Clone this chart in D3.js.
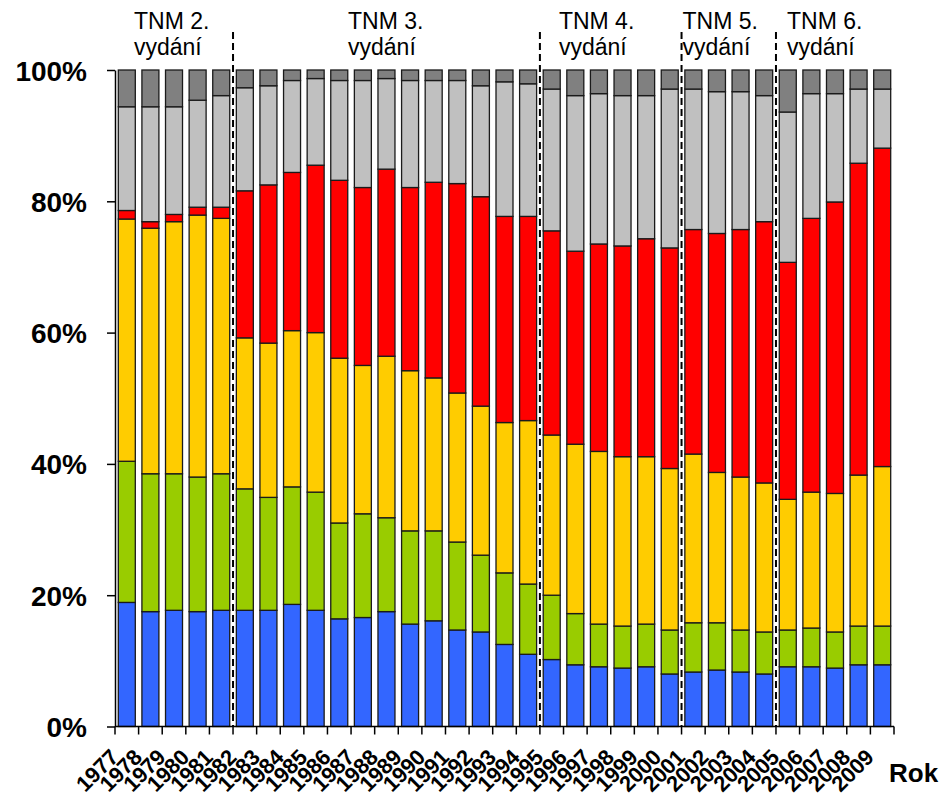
<!DOCTYPE html>
<html>
<head>
<meta charset="utf-8">
<script src="https://cdn.jsdelivr.net/npm/d3@7"></script>
<style>
  body { margin: 0; background: #fff; }
</style>
</head>
<body>
<div class="chart"></div>
<script>
// years on the x axis
const years = d3.range(1977, 2010)

// shares per year (percent), bottom to top
const blue      = [18.9,17.5,17.7,17.5,17.7,17.7,17.7,18.6,17.7,16.4,16.6,17.5,15.6,16.1,14.7,14.4,12.5,11.0,10.2,9.4,9.1,8.9,9.1,8.0,8.3,8.6,8.3,8.0,9.1,9.1,8.9,9.4,9.4]
const green     = [21.5,21.0,20.8,20.5,20.8,18.5,17.2,17.9,18.0,14.6,15.8,14.3,14.2,13.7,13.4,11.7,10.9,10.7,9.8,7.8,6.5,6.4,6.5,6.7,7.5,7.2,6.4,6.4,5.6,5.9,5.5,5.9,5.9]
const yellow    = [36.9,37.4,38.4,39.9,38.9,23.0,23.5,23.8,24.3,25.1,22.6,24.6,24.4,23.3,22.7,22.7,22.9,24.9,24.4,25.8,26.3,25.8,25.5,24.6,25.7,22.9,23.3,22.7,19.9,20.7,21.1,23.0,24.3]
const red       = [1.3,1.0,1.1,1.2,1.7,22.4,24.1,24.1,25.5,27.1,27.1,28.5,27.9,29.8,31.9,31.9,31.4,31.1,31.1,29.4,31.6,32.1,33.2,33.6,34.2,36.4,37.7,39.8,36.1,41.7,44.4,47.5,48.5]
const lightGray = [15.8,17.5,16.4,16.3,17.0,15.7,15.1,14.0,13.2,15.2,16.3,13.8,16.3,15.5,15.7,16.9,20.5,20.2,21.6,23.7,22.9,22.9,21.8,24.2,21.4,21.6,21.0,19.2,22.9,19.0,16.5,11.3,9.0]
const darkGray  = [5.6,5.6,5.6,4.6,3.9,2.7,2.4,1.6,1.3,1.6,1.6,1.3,1.6,1.6,1.6,2.4,1.8,2.1,2.9,3.9,3.6,3.9,3.9,2.9,2.9,3.3,3.3,3.9,6.4,3.6,3.6,2.9,2.9]

const keys   = ["blue","green","yellow","red","lightGray","darkGray"]
const colors = ["#3366ff","#99cc00","#ffcc00","#ff0000","#c0c0c0","#808080"]

// TNM editions
const editions     = ["TNM 2.","TNM 3.","TNM 4.","TNM 5.","TNM 6."]
const editionStart = [1977, 1982, 1995, 2001, 2005]
const editionDx    = [19, 115, 19, 1, 11]

const yTicks = [0, 0.2, 0.4, 0.6, 0.8, 1]

const table = years.map((y,i)=>({
  year: y, blue: blue[i], green: green[i], yellow: yellow[i],
  red: red[i], lightGray: lightGray[i], darkGray: darkGray[i]
}))

const W = 941, H = 796
const plotLeft = 115, plotRight = 894, plotTop = 70, plotBottom = 726.5

const svg = d3.select(".chart").append("svg")
  .attr("width", W).attr("height", H)
  .style("font-family", "'Liberation Sans', Arial, sans-serif")

const xScale = d3.scaleBand()
  .domain(years)
  .range([plotLeft, plotRight])
  .paddingInner(0.28)
  .paddingOuter(0.14)

const yScale = d3.scaleLinear()
  .domain([0, 1])
  .range([plotBottom, plotTop])

const gap = xScale.step() * xScale.paddingInner()
const boundary = y => xScale(y) - gap / 2   // left edge of a category

const series = d3.stack().keys(keys).offset(d3.stackOffsetExpand)(table)

svg.append("g")
  .selectAll("g")
  .data(series)
  .join("g")
  .attr("fill", (d,i)=>colors[i])
  .selectAll("rect")
  .data(d=>d)
  .join("rect")
  .attr("x", d=>xScale(d.data.year))
  .attr("width", xScale.bandwidth())
  .attr("y", d=>yScale(d[1]))
  .attr("height", d=>yScale(d[0]) - yScale(d[1]))
  .attr("stroke", "#1a1a1a")
  .attr("stroke-width", 1.3)

// y axis
const yAxis = d3.axisLeft(yScale)
  .tickValues(yTicks)
  .tickFormat(d3.format(".0%"))
  .tickSize(8)
  .tickSizeOuter(0)
  .tickPadding(20)

const gy = svg.append("g")
  .attr("transform", `translate(${plotLeft},0)`)
  .call(yAxis)
gy.select(".domain").attr("stroke", "#000").attr("stroke-width", 1.5)
gy.selectAll(".tick line").attr("stroke", "#000").attr("stroke-width", 1.5)
gy.selectAll(".tick text")
  .attr("fill", "#000")
  .style("font-size", "28px")
  .style("font-weight", "bold")
  .attr("dy", "0.36em")

// x axis: line, ticks between categories, rotated labels
const gx = svg.append("g")
gx.append("line")
  .attr("x1", plotLeft).attr("x2", plotRight)
  .attr("y1", plotBottom).attr("y2", plotBottom)
  .attr("stroke", "#000").attr("stroke-width", 1.5)

gx.selectAll(".xtick")
  .data(years.concat([years[years.length-1] + 1]))
  .join("line")
  .attr("class", "xtick")
  .attr("x1", (d,i)=> i < years.length ? boundary(d) : plotRight)
  .attr("x2", (d,i)=> i < years.length ? boundary(d) : plotRight)
  .attr("y1", plotBottom).attr("y2", plotBottom + 8)
  .attr("stroke", "#000").attr("stroke-width", 1.5)

gx.selectAll(".xlabel")
  .data(years)
  .join("text")
  .attr("class", "xlabel")
  .attr("text-anchor", "end")
  .attr("transform", d=>`translate(${xScale(d) + xScale.bandwidth()/2 - 7},${plotBottom + 32}) rotate(-45)`)
  .style("font-size", "22px")
  .style("font-weight", "bold")
  .text(d=>d)

svg.append("text")
  .attr("x", 889).attr("y", 782)
  .style("font-size", "26px")
  .style("font-weight", "bold")
  .text("Rok")

// edition separators
svg.selectAll(".sep")
  .data(editionStart.slice(1))
  .join("line")
  .attr("class", "sep")
  .attr("x1", d=>boundary(d)).attr("x2", d=>boundary(d))
  .attr("y1", 32).attr("y2", plotBottom)
  .attr("stroke", "#000")
  .attr("stroke-width", 2)
  .attr("stroke-dasharray", "7,4")

// edition labels
const lab = svg.selectAll(".edition")
  .data(editions)
  .join("text")
  .attr("class", "edition")
  .attr("x", (d,i)=>boundary(editionStart[i]) + editionDx[i])
  .attr("y", 29)
  .style("font-size", "23px")

lab.append("tspan").text(d=>d)
lab.append("tspan")
  .attr("x", (d,i)=>boundary(editionStart[i]) + editionDx[i])
  .attr("dy", 26)
  .text("vydání")
</script>
</body>
</html>
